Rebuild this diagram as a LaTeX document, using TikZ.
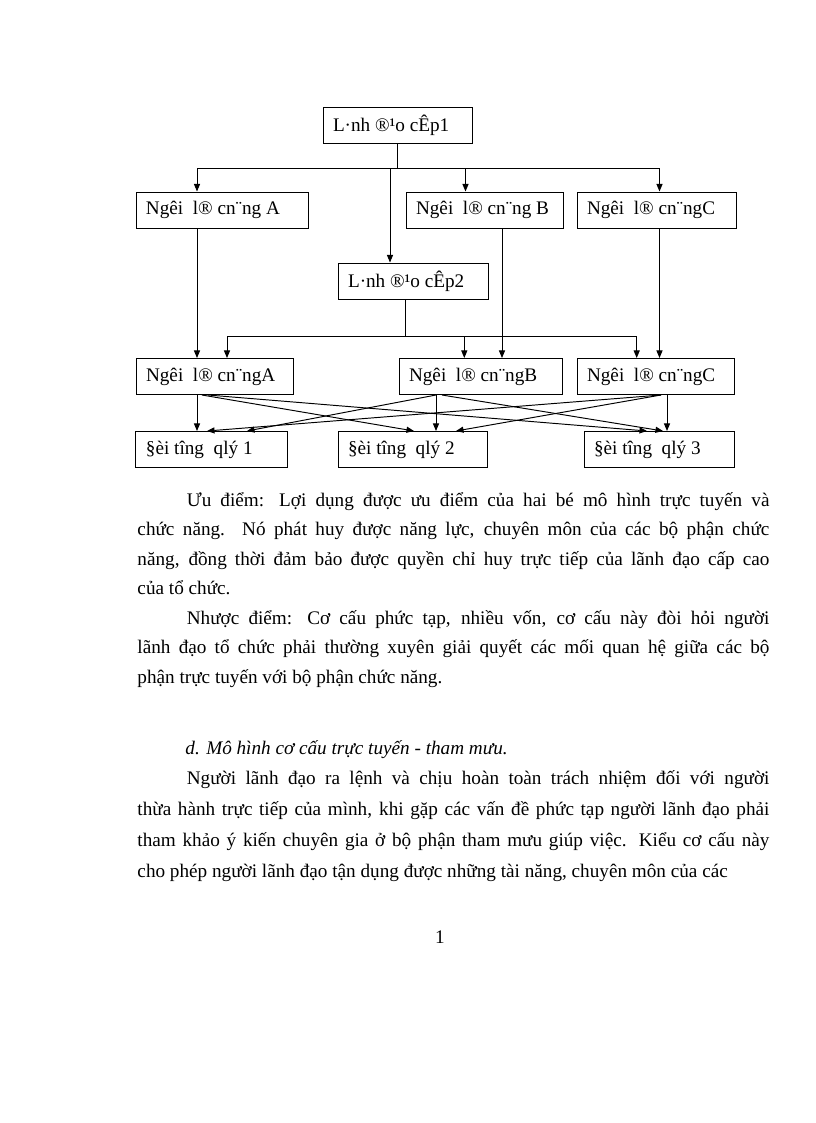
\documentclass[tikz,border=0pt]{standalone}
\usepackage{fontspec}
\setmainfont{Liberation Serif}
\usetikzlibrary{arrows.meta}

\begin{document}
\begin{tikzpicture}[x=0.7295pt,y=-0.7295pt,line width=0.7pt,
        >={Triangle[length=5.5pt,width=4.4pt]},
        unit/.style={draw,inner xsep=7.3pt,inner ysep=0pt,minimum height=26.3pt,font=\fontsize{14}{16}\selectfont},
        txt/.style={anchor=base west,inner sep=0pt,font=\fontsize{14}{16}\selectfont}]
        \useasboundingbox (0,0) rectangle (816,1123);
        % so do
        \node[unit] (lead1) at (397.5,125) {\makebox[94.1pt][l]{L·nh ®¹o cÊp1}};
        \node[unit] (fA) at (222,210) {\makebox[110.9pt][l]{Ngêi\ \ l® cn¨ng A}};
        \node[unit] (fB) at (484.5,210) {\makebox[99.9pt][l]{Ngêi\ \ l® cn¨ng B}};
        \node[unit] (fC) at (656.5,210) {\makebox[101.4pt][l]{Ngêi\ \ l® cn¨ngC}};
        \node[unit] (lead2) at (413,281) {\makebox[94.8pt][l]{L·nh ®¹o cÊp2}};
        \node[unit] (gA) at (214.5,376.5) {\makebox[99.9pt][l]{Ngêi\ \ l® cn¨ngA}};
        \node[unit] (gB) at (481,376.5) {\makebox[105pt][l]{Ngêi\ \ l® cn¨ngB}};
        \node[unit] (gC) at (655.5,376.5) {\makebox[99.9pt][l]{Ngêi\ \ l® cn¨ngC}};
        \node[unit] (o1) at (211.5,449.5) {\makebox[95.6pt][l]{§èi tîng\ \ qlý 1}};
        \node[unit] (o2) at (412.5,449.5) {\makebox[94.1pt][l]{§èi tîng\ \ qlý 2}};
        \node[unit] (o3) at (659,449.5) {\makebox[94.8pt][l]{§èi tîng\ \ qlý 3}};
        \coordinate (bus1) at (0,168);
        \coordinate (bus2) at (0,336);
        \coordinate (cA) at (197,0);
        \coordinate (cL) at (390,0);
        \coordinate (cB) at (465.5,0);
        \coordinate (cC) at (659.5,0);
        \coordinate (cB2) at (502,0);
        \coordinate (cL2) at (405,0);
        \coordinate (dA) at (227,0);
        \coordinate (dB) at (464.3,0);
        \coordinate (dC) at (636.7,0);
        % tuyen
        \draw (lead1.south) -- (lead1.south |- bus1);
        \draw (cA |- bus1) -- (cC |- bus1);
        \draw[->] (cA |- bus1) -- (cA |- fA.north);
        \draw[->] (cL |- bus1) -- (cL |- lead2.north);
        \draw[->] (cB |- bus1) -- (cB |- fB.north);
        \draw[->] (cC |- bus1) -- (cC |- fC.north);
        \draw[->] (cA |- fA.south) -- (cA |- gA.north);
        \draw[->] (cB2 |- fB.south) -- (cB2 |- gB.north);
        \draw[->] (cC |- fC.south) -- (cC |- gC.north);
        \draw (cL2 |- lead2.south) -- (cL2 |- bus2);
        \draw (dA |- bus2) -- (dC |- bus2);
        \foreach \c/\n in {dA/gA,dB/gB,dC/gC}
            \draw[->] (\c |- bus2) -- (\c |- \n.north);
        % chuc nang
        \foreach \s/\t/\sx/\tx in {gA/o1/197/197,gA/o2/202/414,gA/o3/208/647,
                gB/o2/436/436,gB/o1/436/247,gB/o3/442/663,
                gC/o3/667/667,gC/o1/661/207,gC/o2/661/456}
            \draw[->] (\sx,0 |- \s.south) -- (\tx,0 |- \t.north);
        % van ban
        \node[txt] (t1) at (186.4,506) {\makebox[425pt][s]{Ưu điểm: Lợi dụng được ưu điểm của hai bé mô hình trực tuyến và}};
        \node[txt] (t2) at (137,535.5) {\makebox[461pt][s]{chức năng. Nó phát huy được năng lực, chuyên môn của các bộ phận chức}};
        \node[txt] (t3) at (137,565) {\makebox[461pt][s]{năng, đồng thời đảm bảo được quyền chỉ huy trực tiếp của lãnh đạo cấp cao}};
        \node[txt] (t4) at (137,594.5) {của tổ chức.};
        \node[txt] (t5) at (186.4,624) {\makebox[425pt][s]{Nhược điểm: Cơ cấu phức tạp, nhiều vốn, cơ cấu này đòi hỏi người}};
        \node[txt] (t6) at (137,653.5) {\makebox[461pt][s]{lãnh đạo tổ chức phải thường xuyên giải quyết các mối quan hệ giữa các bộ}};
        \node[txt] (t7) at (137,683) {phận trực tuyến với bộ phận chức năng.};
        \node[txt,font=\fontsize{14}{16}\selectfont\itshape] (head) at (185,754) {d. Mô hình cơ cấu trực tuyến - tham mưu.};
        \node[txt] (p1) at (186.4,784) {\makebox[425pt][s]{Người lãnh đạo ra lệnh và chịu hoàn toàn trách nhiệm đối với người}};
        \node[txt] (p2) at (137,815) {\makebox[461pt][s]{thừa hành trực tiếp của mình, khi gặp các vấn đề phức tạp người lãnh đạo phải}};
        \node[txt] (p3) at (137,846) {\makebox[461pt][s]{tham khảo ý kiến chuyên gia ở bộ phận tham mưu giúp việc. Kiểu cơ cấu này}};
        \node[txt] (p4) at (137,877) {cho phép người lãnh đạo tận dụng được những tài năng, chuyên môn của các};
        \node[txt,anchor=base] (pg) at (440,943) {1};
\end{tikzpicture}
\end{document}
